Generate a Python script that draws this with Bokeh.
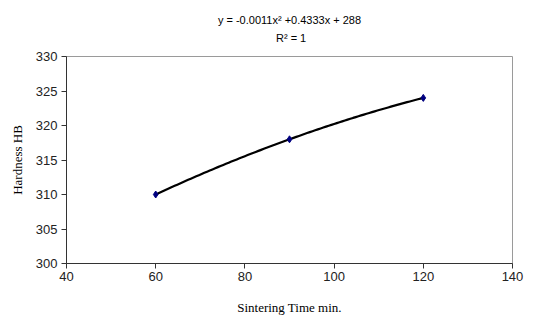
import numpy as np
from bokeh.plotting import figure
from bokeh.models import Range1d, FixedTicker, Title
from bokeh.embed import file_html
from bokeh.resources import INLINE

time_min = [60, 90, 120]
hardness = [310, 318, 324]
x_ticks = [40, 60, 80, 100, 120, 140]
y_ticks = [300, 305, 310, 315, 320, 325, 330]
eq_text = "y = -0.0011x² +0.4333x + 288"
r2_text = "R² = 1"

coef = np.polyfit(time_min, hardness, 2)
xs = np.linspace(min(time_min), max(time_min), 100)
ys = np.polyval(coef, xs)

p = figure(width=558, height=321, output_backend="svg", toolbar_location=None,
           x_range=Range1d(40, 140), y_range=Range1d(300, 330),
           min_border_left=66, min_border_right=46, min_border_top=56, min_border_bottom=58)
p.background_fill_color = "white"
p.border_fill_color = "white"
p.outline_line_color = "#9a9a9a"
p.grid.visible = False

p.line(xs, ys, line_color="black", line_width=2.2)
p.scatter(time_min, hardness, marker="diamond", size=7, fill_color="#000080", line_color="#000080")

for ax, ticks in ((p.xaxis, x_ticks), (p.yaxis, y_ticks)):
    ax.ticker = FixedTicker(ticks=ticks)
    ax.axis_line_color = "#333333"
    ax.major_tick_line_color = "#333333"
    ax.major_tick_out = 5
    ax.major_tick_in = 0
    ax.minor_tick_line_color = None
    ax.major_label_text_font = "Liberation Sans"
    ax.major_label_text_font_size = "13px"
    ax.major_label_text_color = "#222222"
    ax.axis_label_text_font = "Liberation Serif"
    ax.axis_label_text_font_style = "normal"
    ax.axis_label_text_font_size = "13px"
    ax.axis_label_text_color = "black"

p.xaxis.axis_label = "Sintering Time min."
p.yaxis.axis_label = "Hardness HB"
p.xaxis.major_label_standoff = 3
p.xaxis.axis_label_standoff = 16
p.yaxis.major_label_standoff = 4
p.yaxis.axis_label_standoff = 8

# multi-line title lines are left-aligned; pad the second line to centre it
pad = "\u00a0" * 19
p.add_layout(Title(text=eq_text + "\n" + pad + r2_text, align="center", vertical_align="top",
                   text_font="Liberation Sans", text_font_size="11px",
                   text_font_style="normal", text_color="black",
                   text_line_height=1.5, standoff=22), "above")

open("out.html", "w").write(file_html(p, INLINE))
